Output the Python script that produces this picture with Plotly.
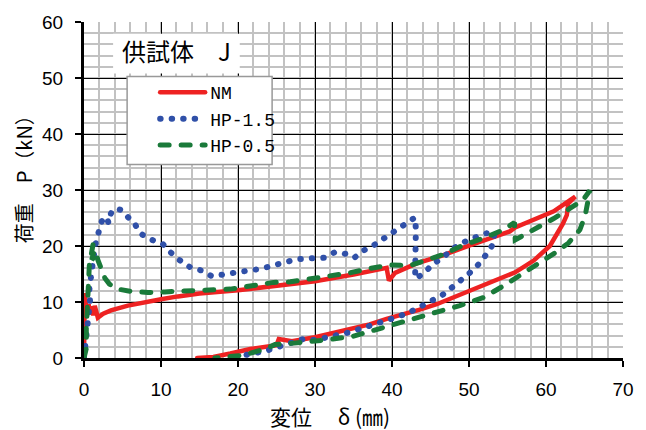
import plotly.graph_objects as go

# ---- data ----
nm_x = [0, 0.05, 0.1, 0.25, 0.4, 0.6, 0.8, 1.0, 1.2, 1.4, 1.6, 1.8, 2.5, 3.5, 5.7, 7.9, 10, 12.2, 15, 20, 25,
        30, 35, 38.4, 39.3, 39.6, 40.4, 43.2, 46.5, 50.1, 53, 55.3, 56, 58.3, 61, 63.8, 62.9, 62.7, 62.2,
        60.5, 58.4, 56, 54, 52, 50.1, 47.9, 45.8, 43.5, 41.5, 39.3, 37.1, 34, 30, 27, 25.3, 25.0, 23, 21.6,
        19, 16.8, 14.7]
nm_y = [0, 4, 11.6, 9.5, 8.2, 9.6, 7.8, 9.2, 7.6, 9.3, 7.8, 7.2, 7.9, 8.5, 9.35, 10.0, 10.5, 11.0, 11.5, 12.1, 12.8,
        13.7, 14.9, 15.9, 16.1, 13.8, 15.2, 16.9, 18.3, 20.1, 21.5, 22.6, 23.3, 24.6, 26.2, 28.8, 27.6, 25.5, 24.0,
        20.0, 17.4, 15.3, 14.2, 13.1, 12.0, 10.8, 9.6, 8.6, 7.9, 7.0, 6.0, 5.0, 3.7, 3.0, 3.4, 2.3, 2.0, 1.6,
        0.8, 0.2, 0]

hp15_x = [0, 0.13, 0.35, 0.4, 0.7, 0.78, 0.7, 0.87, 1.2, 1.56, 1.86, 2.3, 2.9, 3.2, 3.4, 3.7, 4.2, 4.9, 5.75,
          6.5, 7.2, 7.6, 8.8, 10.2, 11.3, 12.4, 13.8, 15.3, 16.6, 18.1, 19.7, 21.3, 22.9, 24.5, 26.0, 27.5,
          29.1, 30.3, 31.2, 32.6, 34, 35.1, 36.3, 37.7, 39.1, 40.3, 41.6, 43.0, 43.1, 43.1, 43.1, 43.1, 43.0,
          44.2, 45.2, 46.6, 47.7, 49, 50.6, 52, 53.3, 53.2, 52.3, 51.3, 50.1, 49, 47.7, 46.5, 45, 43.5, 42.2,
          40.6, 39.1, 37.6, 36.1, 34.5, 32.9, 31.4, 29.9, 28.5, 27, 25.5, 23.9, 22.3, 20.7, 19.4]
hp15_y = [0, 2.0, 4.1, 6.0, 8.2, 10.2, 12.3, 14.5, 17.5, 20.8, 22.5, 24.4, 25.2, 24.1, 25.5, 26.4, 26.7, 26.4, 25.1,
          24.2, 22.5, 22.0, 21.1, 20.4, 18.8, 17.5, 16.2, 15.6, 14.6, 15.0, 15.2, 15.6, 15.9, 16.5, 17.0, 17.6,
          17.8, 17.9, 17.9, 18.9, 18.6, 17.9, 19.2, 20.2, 21.5, 22.9, 23.9, 25.1, 23.0, 20.8, 18.6, 16.4, 14.2,
          15.1, 16.7, 17.9, 19.3, 20.5, 21.4, 22.2, 22.5, 20.5, 18.6, 16.8, 15.2, 13.8, 12.5, 11.2, 10.1, 9.05, 8.1,
          7.3, 6.6, 5.8, 5.2, 4.6, 4.1, 3.65, 3.2, 3.4, 2.7, 2.0, 1.4, 0.9, 0.35, 0.1]

hp05_x = [0, 0.3, 0.3, 0.4, 0.5, 0.7, 0.95, 1.2, 1.4, 1.0, 1.3, 1.6, 1.8, 2.25, 2.7, 3.3, 4.4, 6.1, 8.3, 10.5,
          12.6, 15.5, 19, 22, 24.6, 26.8, 29.4, 32, 34.5, 37.1, 39.7, 42.3, 44.1, 46.7, 49.3, 51.9, 54.5, 55.5,
          55.9, 56, 58.4, 61, 63.1, 64.8, 65.7, 65.5, 65.1, 64.4, 62.9, 61.2, 59.2, 57.1, 54.5, 51.9, 48.8,
          45.8, 42.8, 39.7, 37.1, 35, 31.9, 29.4, 26.8, 24.8, 23.7, 20.7, 18.5, 17]
hp05_y = [0, 1.7, 5.2, 9.4, 13.5, 16.7, 18.5, 20.5, 19.5, 17.5, 18.0, 18.8, 17.5, 16.1, 14.3, 13.2, 12.3, 11.9, 11.7, 11.8,
          12.0, 12.1, 12.3, 13.0, 13.5, 13.6, 14.1, 14.6, 15.2, 16.0, 16.6, 16.5, 17.3, 18.5, 20.2, 21.4, 22.9, 23.9,
          24.2, 21.1, 22.9, 24.9, 26.7, 28.2, 29.9, 28.5, 25.5, 22.9, 20.5, 18.8, 17.0, 15.2, 12.9, 10.8, 9.35,
          8.2, 7.0, 5.8, 4.6, 3.9, 3.3, 2.9, 2.6, 2.4, 1.7, 0.5, 0.1, 0]

x_ticks = [0, 10, 20, 30, 40, 50, 60, 70]
y_ticks = [0, 10, 20, 30, 40, 50, 60]
series_names = ["NM", "HP-1.5", "HP-0.5"]

JP = "Noto Sans CJK JP"
NUM = "Liberation Sans, Arial"

fig = go.Figure()
fig.add_trace(go.Scatter(x=nm_x, y=nm_y, mode="lines", name=series_names[0],
                         line=dict(color="#ee2222", width=4.5)))
fig.add_trace(go.Scatter(x=hp15_x, y=hp15_y, mode="lines", name=series_names[1],
                         line=dict(color="#3050a8", width=6, dash="0.5px,11px")))
fig.add_trace(go.Scatter(x=hp05_x, y=hp05_y, mode="lines", name=series_names[2],
                         line=dict(color="#1a7a3a", width=5, dash="9px,12px")))

axis_common = dict(
    showline=True, linecolor="black", linewidth=3,
    ticks="outside", ticklen=6, tickwidth=2, tickcolor="black",
    showgrid=True, gridcolor="black", gridwidth=1,
    zeroline=False, ticklabeloverflow="allow",
    tickfont=dict(family=NUM, size=19, color="black"),
)

fig.update_layout(
    width=646, height=430,
    margin=dict(l=84, r=23, t=18, b=72),
    plot_bgcolor="white", paper_bgcolor="white",
    hovermode=False,
    xaxis=dict(range=[0, 70], tickvals=x_ticks, ticklabelstandoff=6,
               minor=dict(dtick=2, showgrid=True, gridcolor="#c2c2c2", gridwidth=2),
               **axis_common),
    yaxis=dict(range=[0, 60], tickvals=y_ticks, ticklabelstandoff=8,
               minor=dict(dtick=2, showgrid=True, gridcolor="#c2c2c2", gridwidth=2),
               **axis_common),
    showlegend=True,
    legend=dict(x=0.132, y=0.845, xanchor="left", yanchor="top",
                bgcolor="rgba(0,0,0,0)", borderwidth=0,
                font=dict(family="Liberation Mono", size=18, color="black"),
                tracegroupgap=10, itemwidth=45),
    shapes=[
        dict(type="rect", xref="paper", yref="paper", x0=0.08, x1=0.349, y0=0.576, y1=0.838,
             fillcolor="white", line=dict(color="#999999", width=1.5), layer="above"),
        dict(type="rect", xref="paper", yref="paper", x0=0.054, x1=0.289, y0=0.847, y1=0.965,
             fillcolor="white", line=dict(width=0), layer="above"),
    ],
    annotations=[
        dict(text="供試体　J", xref="paper", yref="paper", x=0.066, y=0.915,
             xanchor="left", yanchor="middle", showarrow=False,
             font=dict(family=JP, size=24, color="black")),
        dict(text="変位　 δ (㎜)", xref="paper", yref="paper", x=0.456, y=-0.172,
             xanchor="center", yanchor="middle", showarrow=False,
             font=dict(family=JP, size=21, color="black")),
        dict(text="荷重　P（kN）", xref="paper", yref="paper", x=-0.113, y=0.547,
             xanchor="center", yanchor="middle", showarrow=False, textangle=-90,
             font=dict(family=JP, size=20, color="black")),
    ],
)

post = """
document.body.style.margin = '0';
document.documentElement.style.overflow = 'hidden';
var gd = document.getElementById('{plot_id}');
gd.querySelectorAll('path.js-line').forEach(function(p){ p.style.strokeLinecap = 'round'; });
"""
fig.write_html("out.html", post_script=post, config={"displayModeBar": False})
